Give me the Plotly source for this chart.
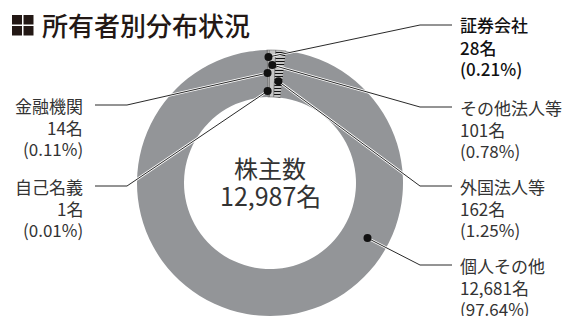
import math
import plotly.graph_objects as go

# ---- data ----
names = ["自己名義", "金融機関", "証券会社", "その他法人等", "外国法人等", "個人その他"]
counts = [1, 14, 28, 101, 162, 12681]
pcts = ["0.01%", "0.11%", "0.21%", "0.78%", "1.25%", "97.64%"]
count_labels = ["1名", "14名", "28名", "101名", "162名", "12,681名"]
total_label = "12,987名"
center_title = "株主数"
title = "所有者別分布状況"

# ---- styling / layout ----
W, H = 571, 316
CX, CY, R = 270, 183, 133
HOLE = 86 / 133
ROT = -1.5
FONT = "Noto Sans CJK JP"
TXT = "#333333"

slice_colors = ["#555555", "#c4c4c4", "#c4c4c4", "#c4c4c4", "#ffffff", "#939598"]
slice_patterns = ["", "", "", "", "-", ""]
line_w = [0.5, 0.5, 0.5, 0.5, 0.5, 0]

# per-slice placement of the leader dot (fraction within slice, radius px)
dot_frac = [0.5, 0.5, 0.5, 0.5, 0.5, 0.32]
dot_r = [92, 110, 126, 118, 102, 112]
label_side = ["L", "L", "R", "R", "R", "R"]
label_y = [186, 105, 25, 107, 186, 265]


def px(x):
    return x / W


def py(y):
    return 1 - y / H


fig = go.Figure()
fig.add_trace(go.Pie(
    labels=names, values=counts, sort=False, direction="clockwise",
    rotation=ROT, hole=HOLE, textinfo="none", hoverinfo="skip",
    showlegend=False,
    domain=dict(x=[px(CX - R), px(CX + R)], y=[py(CY + R), py(CY - R)]),
    marker=dict(colors=slice_colors,
                line=dict(color="#555555", width=line_w),
                pattern=dict(shape=slice_patterns, fgcolor="#111111",
                             bgcolor="#ffffff", size=3, solidity=0.5)),
))

total = sum(counts)
shapes = []
annotations = []
cum = 0
for i, (n, c) in enumerate(zip(names, counts)):
    a0 = cum / total * 360 + ROT
    a1 = (cum + c) / total * 360 + ROT
    cum += c
    ang = math.radians(a0 + (a1 - a0) * dot_frac[i])
    dx = CX + dot_r[i] * math.sin(ang)
    dy = CY - dot_r[i] * math.cos(ang)
    y0 = label_y[i]
    if label_side[i] == "R":
        ex, endx, tx, anchor = 420, 452, 458, "left"
    else:
        ex, endx, tx, anchor = 127, 95, 85, "right"
    path = f"M {px(dx)},{py(dy)} L {px(ex)},{py(y0)} L {px(endx)},{py(y0)}"
    shapes.append(dict(type="path", path=path, xref="paper", yref="paper",
                       line=dict(color="white", width=2.5), layer="above"))
    shapes.append(dict(type="path", path=path, xref="paper", yref="paper",
                       line=dict(color="#111111", width=0.9), layer="above"))
    rd = 4
    shapes.append(dict(type="circle", xref="paper", yref="paper",
                       x0=px(dx - rd), x1=px(dx + rd), y0=py(dy + rd), y1=py(dy - rd),
                       fillcolor="#111111", line=dict(width=0), layer="above"))
    hl = n == "証券会社"
    col = "#111111" if hl else TXT
    for k, t in enumerate([n, count_labels[i], f"({pcts[i]})"]):
        annotations.append(dict(
            x=px(tx), y=py(y0 + [0, 22.5, 43.5][k]), xref="paper", yref="paper",
            text=t, showarrow=False, xanchor=anchor, yanchor="middle",
            font=dict(family=FONT, size=17, color=col,
                      weight=500 if hl else 400)))

# center texts
annotations.append(dict(x=px(CX), y=py(168), xref="paper", yref="paper",
                        text=center_title, showarrow=False, yanchor="middle",
                        font=dict(family=FONT, size=24, color=TXT)))
annotations.append(dict(x=px(CX), y=py(195), xref="paper", yref="paper",
                        text=total_label, showarrow=False, yanchor="middle",
                        font=dict(family=FONT, size=25, color=TXT)))
# title
annotations.append(dict(x=px(40), y=py(25), xref="paper", yref="paper",
                        text=title, showarrow=False, xanchor="left", yanchor="middle",
                        font=dict(family=FONT, size=26, color="#231815", weight=500)))
# title icon (2x2 squares)
for (sx, sy) in [(12, 15), (23.5, 15), (12, 26), (23.5, 26)]:
    shapes.append(dict(type="rect", xref="paper", yref="paper",
                       x0=px(sx), x1=px(sx + 10), y0=py(sy + 9.5), y1=py(sy),
                       fillcolor="#231815", line=dict(width=0), layer="above"))

fig.update_layout(
    width=W, height=H, margin=dict(l=0, r=0, t=0, b=0),
    paper_bgcolor="white", plot_bgcolor="white",
    shapes=shapes, annotations=annotations, showlegend=False,
)
fig.write_html("out.html", config={"displayModeBar": False},
               post_script="document.body.style.margin='0px';")
